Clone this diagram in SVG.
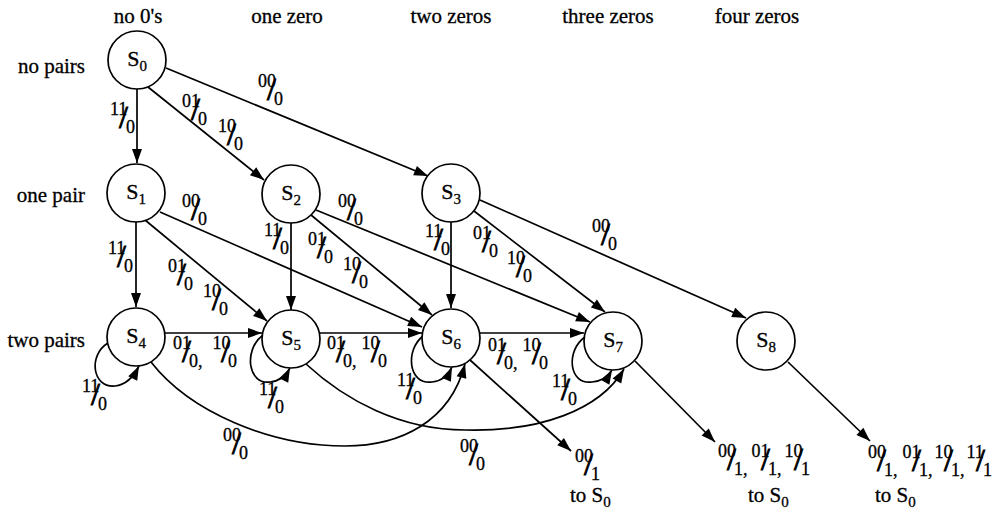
<svg xmlns="http://www.w3.org/2000/svg" width="1000" height="512" viewBox="0 0 1000 512">
<style>
text{font-family:"Liberation Serif","Times New Roman",serif;fill:#000;stroke:#000;stroke-width:0.3}
.hd{font-size:21px;text-anchor:middle}
.rw{font-size:21px;text-anchor:end}
.nl{font-size:22px;text-anchor:middle}
.sub{font-size:15px}
.lb{font-size:18px}
.sl{font-size:32px;stroke-width:0.9}
.to{font-size:21px}
.node circle{fill:#fff;stroke:#000;stroke-width:1.7}
.edge{fill:none;stroke:#000;stroke-width:1.7;marker-end:url(#ah)}
</style>
<defs>
<marker id="ah" markerUnits="userSpaceOnUse" markerWidth="15" markerHeight="11" refX="14" refY="5.5" orient="auto" overflow="visible">
<path d="M0,0.5 L14,5.5 L0,10.5 z" fill="#000"/>
</marker>
</defs>
<rect width="1000" height="512" fill="#fff"/>
<g id="headers">
<text class="hd" x="138" y="23">no 0's</text>
<text class="hd" x="287" y="23">one zero</text>
<text class="hd" x="451" y="23">two zeros</text>
<text class="hd" x="608" y="23">three zeros</text>
<text class="hd" x="757" y="23">four zeros</text>
<text class="rw" x="85" y="73">no pairs</text>
<text class="rw" x="85" y="202">one pair</text>
<text class="rw" x="85" y="347">two pairs</text>
</g>
<g id="connectors">
<path class="edge" d="M137,89 L137,163"/>
<path class="edge" d="M148,87 L264,180"/>
<path class="edge" d="M166,68 L428,176"/>
<path class="edge" d="M136,222 L136,307"/>
<path class="edge" d="M145,220 L267,321"/>
<path class="edge" d="M160,212 L422,327"/>
<path class="edge" d="M291,223 L291,310"/>
<path class="edge" d="M311,215 L432,315"/>
<path class="edge" d="M316,210 L590,322"/>
<path class="edge" d="M451,222 L451,308"/>
<path class="edge" d="M474,211 L605,312"/>
<path class="edge" d="M480,200 L746,318"/>
<path class="edge" d="M165,333 L262,333"/>
<path class="edge" d="M320,333 L422,333"/>
<path class="edge" d="M480,333 L584,333"/>
<path class="edge" d="M108,343 C88,355 92,388 115,386 C125,385 133,378 139,366"/>
<path class="edge" d="M263,335 C243,350 248,385 270,382 C280,381 286,376 290,368"/>
<path class="edge" d="M423,336 C405,350 408,385 432,382 C442,381 448,376 452,367"/>
<path class="edge" d="M585,337 C566,350 568,385 592,382 C602,381 608,377 612,370"/>
<path class="edge" d="M151,362 C190,412 270,446 345,446 C400,446 450,422 465,364"/>
<path class="edge" d="M306,364 C345,400 400,430 465,430 C540,432 600,410 624,369"/>
<path class="edge" d="M470,360 L571,451"/>
<path class="edge" d="M635,361 L715,442"/>
<path class="edge" d="M788,362 L870,441"/>
</g>
<g id="edge-labels">
<text class="lb" x="110" y="115">11<tspan class="sl" x="119" y="128">/</tspan><tspan x="126" y="133">0</tspan></text>
<text class="lb" x="182" y="107">01<tspan class="sl" x="191" y="120">/</tspan><tspan x="198" y="125">0</tspan></text>
<text class="lb" x="218" y="132">10<tspan class="sl" x="227" y="145">/</tspan><tspan x="234" y="150">0</tspan></text>
<text class="lb" x="258" y="87">00<tspan class="sl" x="267" y="100">/</tspan><tspan x="274" y="105">0</tspan></text>
<text class="lb" x="108" y="254">11<tspan class="sl" x="117" y="267">/</tspan><tspan x="124" y="272">0</tspan></text>
<text class="lb" x="168" y="272">01<tspan class="sl" x="177" y="285">/</tspan><tspan x="184" y="290">0</tspan></text>
<text class="lb" x="203" y="297">10<tspan class="sl" x="212" y="310">/</tspan><tspan x="219" y="315">0</tspan></text>
<text class="lb" x="182" y="207">00<tspan class="sl" x="191" y="220">/</tspan><tspan x="198" y="225">0</tspan></text>
<text class="lb" x="264" y="236">11<tspan class="sl" x="273" y="249">/</tspan><tspan x="280" y="254">0</tspan></text>
<text class="lb" x="308" y="245">01<tspan class="sl" x="317" y="258">/</tspan><tspan x="324" y="263">0</tspan></text>
<text class="lb" x="343" y="270">10<tspan class="sl" x="352" y="283">/</tspan><tspan x="359" y="288">0</tspan></text>
<text class="lb" x="338" y="207">00<tspan class="sl" x="347" y="220">/</tspan><tspan x="354" y="225">0</tspan></text>
<text class="lb" x="425" y="237">11<tspan class="sl" x="434" y="250">/</tspan><tspan x="441" y="255">0</tspan></text>
<text class="lb" x="473" y="239">01<tspan class="sl" x="482" y="252">/</tspan><tspan x="489" y="257">0</tspan></text>
<text class="lb" x="507" y="264">10<tspan class="sl" x="516" y="277">/</tspan><tspan x="523" y="282">0</tspan></text>
<text class="lb" x="592" y="232">00<tspan class="sl" x="601" y="245">/</tspan><tspan x="608" y="250">0</tspan></text>
<text class="lb" x="173" y="349">01<tspan class="sl" x="182" y="362">/</tspan><tspan x="189" y="367">0,</tspan><tspan x="208" y="349"> 10</tspan><tspan class="sl" x="221" y="362">/</tspan><tspan x="228" y="367">0</tspan></text>
<text class="lb" x="327" y="349">01<tspan class="sl" x="336" y="362">/</tspan><tspan x="343" y="367">0,</tspan><tspan x="357" y="349"> 10</tspan><tspan class="sl" x="371" y="362">/</tspan><tspan x="378" y="367">0</tspan></text>
<text class="lb" x="488" y="351">01<tspan class="sl" x="497" y="364">/</tspan><tspan x="504" y="369">0,</tspan><tspan x="518" y="351"> 10</tspan><tspan class="sl" x="532" y="364">/</tspan><tspan x="539" y="369">0</tspan></text>
<text class="lb" x="82" y="392">11<tspan class="sl" x="91" y="405">/</tspan><tspan x="98" y="410">0</tspan></text>
<text class="lb" x="259" y="395">11<tspan class="sl" x="268" y="408">/</tspan><tspan x="275" y="413">0</tspan></text>
<text class="lb" x="397" y="386">11<tspan class="sl" x="406" y="399">/</tspan><tspan x="413" y="404">0</tspan></text>
<text class="lb" x="552" y="387">11<tspan class="sl" x="561" y="400">/</tspan><tspan x="568" y="405">0</tspan></text>
<text class="lb" x="223" y="441">00<tspan class="sl" x="232" y="454">/</tspan><tspan x="239" y="459">0</tspan></text>
<text class="lb" x="460" y="452">00<tspan class="sl" x="469" y="465">/</tspan><tspan x="476" y="470">0</tspan></text>
<text class="lb" x="575" y="462">00<tspan class="sl" x="584" y="475">/</tspan><tspan x="591" y="480">1</tspan></text>
<text class="to" x="570" y="502">to S<tspan class="sub" dy="5">0</tspan></text>
<text class="lb" x="718" y="457">00<tspan class="sl" x="727" y="470">/</tspan><tspan x="734" y="475">1,</tspan><tspan x="747" y="457"> 01</tspan><tspan class="sl" x="761" y="470">/</tspan><tspan x="768" y="475">1,</tspan><tspan x="780" y="457"> 10</tspan><tspan class="sl" x="794" y="470">/</tspan><tspan x="801" y="475">1</tspan></text>
<text class="to" x="748" y="502">to S<tspan class="sub" dy="5">0</tspan></text>
<text class="lb" x="868" y="458">00<tspan class="sl" x="877" y="471">/</tspan><tspan x="884" y="476">1,</tspan><tspan x="898" y="458"> 01</tspan><tspan class="sl" x="912" y="471">/</tspan><tspan x="919" y="476">1,</tspan><tspan x="930" y="458"> 10</tspan><tspan class="sl" x="944" y="471">/</tspan><tspan x="951" y="476">1,</tspan><tspan x="962" y="458"> 11</tspan><tspan class="sl" x="976" y="471">/</tspan><tspan x="983" y="476">1</tspan></text>
<text class="to" x="875" y="502">to S<tspan class="sub" dy="5">0</tspan></text>
</g>
<g id="nodes">
<g id="S0" class="node"><circle cx="137" cy="60" r="29"/><text class="nl" x="137" y="66">S<tspan class="sub" dy="5">0</tspan></text></g>
<g id="S1" class="node"><circle cx="136" cy="193" r="29"/><text class="nl" x="136" y="199">S<tspan class="sub" dy="5">1</tspan></text></g>
<g id="S2" class="node"><circle cx="291" cy="194" r="29"/><text class="nl" x="291" y="200">S<tspan class="sub" dy="5">2</tspan></text></g>
<g id="S3" class="node"><circle cx="451" cy="193" r="29"/><text class="nl" x="451" y="199">S<tspan class="sub" dy="5">3</tspan></text></g>
<g id="S4" class="node"><circle cx="136" cy="337" r="29"/><text class="nl" x="136" y="343">S<tspan class="sub" dy="5">4</tspan></text></g>
<g id="S5" class="node"><circle cx="291" cy="339" r="29"/><text class="nl" x="291" y="345">S<tspan class="sub" dy="5">5</tspan></text></g>
<g id="S6" class="node"><circle cx="451" cy="338" r="29"/><text class="nl" x="451" y="344">S<tspan class="sub" dy="5">6</tspan></text></g>
<g id="S7" class="node"><circle cx="613" cy="341" r="29"/><text class="nl" x="613" y="347">S<tspan class="sub" dy="5">7</tspan></text></g>
<g id="S8" class="node"><circle cx="766" cy="341" r="29"/><text class="nl" x="766" y="347">S<tspan class="sub" dy="5">8</tspan></text></g>
</g>
</svg>
